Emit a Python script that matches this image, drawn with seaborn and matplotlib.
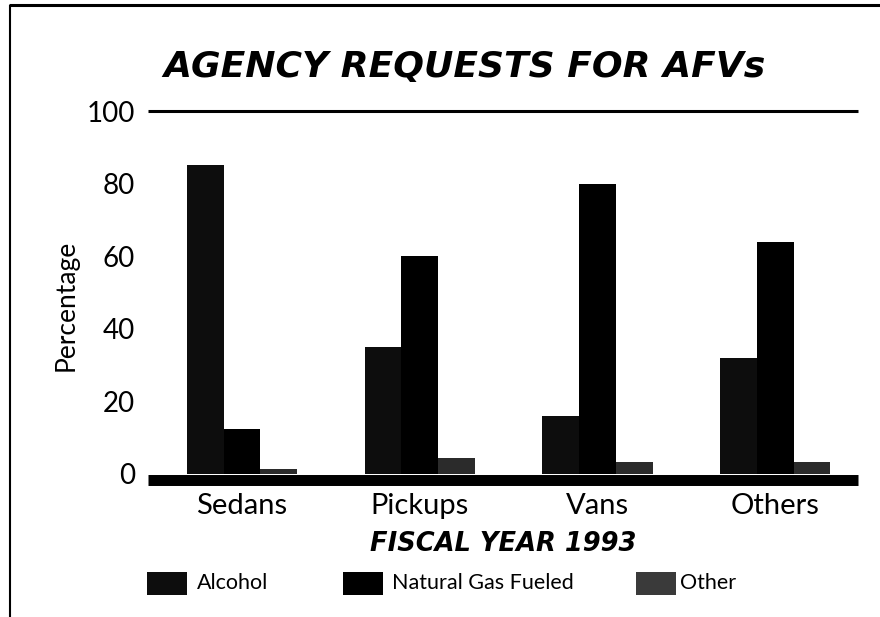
import matplotlib
matplotlib.use("Agg")
import matplotlib.pyplot as plt
from matplotlib.patches import Rectangle
from matplotlib.lines import Line2D
import seaborn as sns
import pandas as pd

categories = ["Sedans", "Pickups", "Vans", "Others"]
series_names = ["Alcohol", "Natural Gas Fueled", "Other"]
alcohol = [85, 35, 16, 32]
natural_gas = [12.5, 60, 80, 64]
other = [1.5, 4.5, 3.3, 3.3]
y_ticks = [0, 20, 40, 60, 80, 100]

colors = ["#0d0d0d", "#000000", "#2b2b2b"]

rows = []
for name, vals in zip(series_names, [alcohol, natural_gas, other]):
    for c, v in zip(categories, vals):
        rows.append({"Category": c, "Type": name, "Value": v})
df = pd.DataFrame(rows)

sns.set_theme(style="white")
plt.rcParams["font.family"] = ["Lato", "DejaVu Sans"]
plt.rcParams["text.color"] = "black"
plt.rcParams["xtick.color"] = "black"
plt.rcParams["ytick.color"] = "black"
plt.rcParams["axes.labelcolor"] = "black"

W, H = 880, 617
fig = plt.figure(figsize=(8.8, 6.17), dpi=100)
ax_left, ax_right = 148 / W, 858 / W
ax_bottom, ax_top = 1 - 474 / H, 1 - 111 / H
ax = fig.add_axes([ax_left, ax_bottom, ax_right - ax_left, ax_top - ax_bottom])

sns.barplot(data=df, x="Category", y="Value", hue="Type", order=categories,
            hue_order=series_names, palette=colors, width=0.62, saturation=1,
            linewidth=0, legend=False, ax=ax)

ax.set_xlim(-0.529, 3.466)
ax.set_ylim(0, 100)
for s in ax.spines.values():
    s.set_visible(False)
px_per_unit = (474 - 111) / 100
ax.axhline(-5.5 / px_per_unit, color="black", lw=7.9, clip_on=False, zorder=5,
           solid_capstyle="butt")
ax.axhline(100, color="black", lw=2.2, clip_on=False, zorder=5, solid_capstyle="butt")

ax.set_yticks(y_ticks)
ax.set_yticklabels([str(t) for t in y_ticks], fontsize=20)
ax.tick_params(axis="y", length=0, pad=9.5)
ax.tick_params(axis="x", length=0, pad=14)
ax.set_xticks(range(len(categories)))
ax.set_xticklabels(categories, fontsize=21)
ax.set_xlabel("FISCAL YEAR 1993", fontsize=18.5, fontweight="bold", style="oblique",
              family="DejaVu Sans", labelpad=8)
ax.set_ylabel("")
ax.grid(False)

fig.text(66 / W, 1 - 305 / H, "Percentage", rotation=90, ha="center", va="center",
         fontsize=19)

fig.text(163 / W, 1 - 77 / H, "AGENCY REQUESTS FOR AFVs", ha="left", va="baseline",
         fontsize=26, fontweight="bold", style="oblique", family="DejaVu Sans")

# legend
leg_y = 583
sq_w, sq_h = 40, 23
leg_items = [(147, 197, series_names[0], colors[0]),
             (343, 392, series_names[1], colors[1]),
             (636, 680, series_names[2], "#3a3a3a")]
for sx, tx, lab, col in leg_items:
    fig.add_artist(Rectangle((sx / W, 1 - (leg_y + sq_h / 2) / H), sq_w / W, sq_h / H,
                             transform=fig.transFigure, facecolor=col, edgecolor="none"))
    fig.text(tx / W, 1 - leg_y / H, lab, ha="left", va="center", fontsize=15.5)

# page border lines
fig.add_artist(Line2D([9 / W, 1.0], [1 - 5 / H, 1 - 5 / H], transform=fig.transFigure,
                      color="black", lw=2.2, solid_capstyle="butt"))
fig.add_artist(Line2D([10 / W, 10 / W], [1 - 5 / H, 0], transform=fig.transFigure,
                      color="black", lw=1.5, solid_capstyle="butt"))

fig.savefig("out.png", dpi=100, facecolor="white")
